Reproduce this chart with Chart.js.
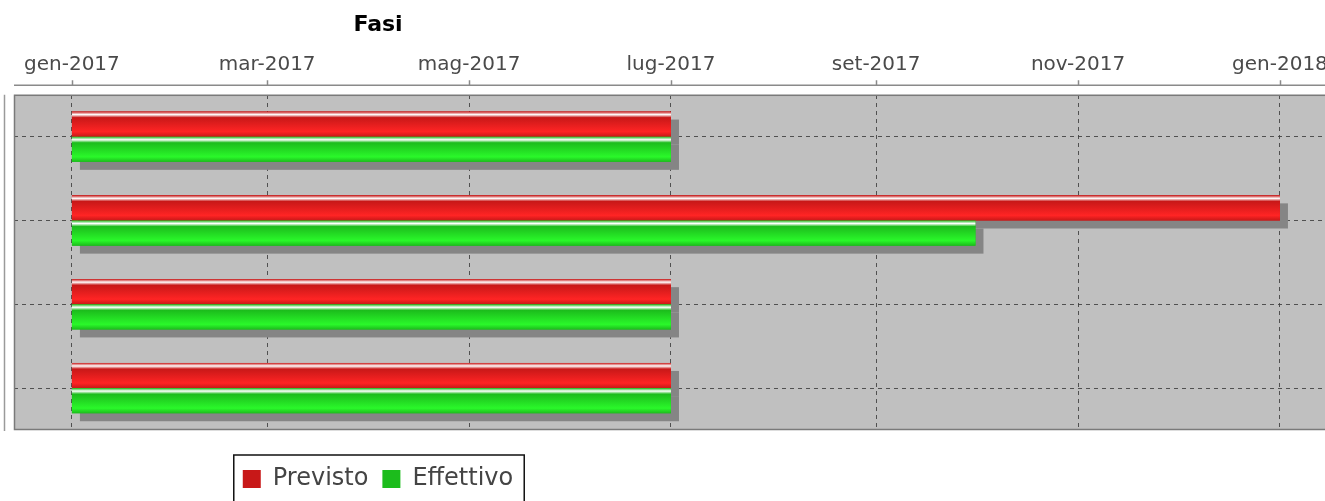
<!DOCTYPE html>
<html>
<head>
<meta charset="utf-8">
<script src="https://cdn.jsdelivr.net/npm/chart.js@4.4.1/dist/chart.umd.min.js"></script>
<style>
  html, body { margin: 0; padding: 0; background: #fff; overflow: hidden; }
  #wrap { width: 1325px; height: 501px; overflow: hidden; }
</style>
</head>
<body>
<div id="wrap"><canvas id="ganttChart" width="1400" height="501"></canvas></div>
<script>
// Fasi: previsto vs effettivo
const categories = ['Fase 1', 'Fase 2', 'Fase 3', 'Fase 4'];
const previstoStart = ['2017-01-01', '2017-01-01', '2017-01-01', '2017-01-01'];
const previstoEnd = ['2017-07-01', '2018-01-01', '2017-07-01', '2017-07-01'];
const effettivoStart = ['2017-01-01', '2017-01-01', '2017-01-01', '2017-01-01'];
const effettivoEnd = ['2017-07-01', '2017-10-01', '2017-07-01', '2017-07-01'];
const tickDates = ['2017-01-01', '2017-03-01', '2017-05-01', '2017-07-01', '2017-09-01', '2017-11-01', '2018-01-01'];
const tickLabels = ['gen-2017', 'mar-2017', 'mag-2017', 'lug-2017', 'set-2017', 'nov-2017', 'gen-2018'];
const axisStart = '2016-12-14T12:00:00Z';
const axisEnd = '2018-02-03T06:00:00Z';

const ms = s => Date.parse(s.length > 10 ? s : s + 'T00:00:00Z');
const span = (a, b) => a.map((s, i) => [ms(s), ms(b[i])]);

// base colour + brighter colour for each series
const shades = [['#c81818', '#ff2424'], ['#1cbc1c', '#2af82a']];

const ganttLook = {
  id: 'ganttLook',
  afterLayout(chart) {
    const t = chart.titleBlock;
    t.left = 0; t.right = 756;
    const l = chart.legend;
    l.left = 0; l.right = 756;
    l.top += 23; l.bottom += 23;
  },
  beforeDraw(chart) {
    const {ctx, chartArea: a} = chart;
    ctx.save();
    ctx.fillStyle = '#c0c0c0';
    ctx.fillRect(a.left, a.top, a.width, a.height);
    ctx.restore();
  },
  beforeDatasetsDraw(chart) {
    const {ctx, chartArea: a} = chart;
    ctx.save();
    ctx.beginPath();
    ctx.rect(a.left, a.top, a.width, a.height);
    ctx.clip();
    ctx.fillStyle = '#858585';
    chart.data.datasets.forEach((ds, i) => {
      chart.getDatasetMeta(i).data.forEach(el => {
        const p = el.getProps(['x', 'y', 'base', 'height'], true);
        const x0 = Math.min(p.x, p.base);
        ctx.fillRect(x0 + 8, p.y - p.height / 2 + 8, Math.abs(p.x - p.base), p.height);
      });
    });
    ctx.restore();
  },
  afterDatasetsDraw(chart) {
    const ctx = chart.ctx;
    ctx.save();
    chart.data.datasets.forEach((ds, i) => {
      const [c0, c1] = shades[i];
      chart.getDatasetMeta(i).data.forEach(el => {
        const p = el.getProps(['x', 'y', 'base', 'height'], true);
        const top = p.y - p.height / 2;
        const g = ctx.createLinearGradient(0, top, 0, top + p.height);
        g.addColorStop(0, c0);
        g.addColorStop(0.12, '#ffffff');
        g.addColorStop(0.24, c0);
        g.addColorStop(0.8, c1);
        g.addColorStop(1, c0);
        ctx.fillStyle = g;
        ctx.fillRect(Math.min(p.x, p.base), top, Math.abs(p.x - p.base), p.height);
      });
    });
    ctx.restore();
  },
  afterDraw(chart) {
    const {ctx, chartArea: a} = chart;
    const xs = chart.scales.x;
    ctx.save();
    // plot outline
    ctx.strokeStyle = '#7a7a7a';
    ctx.lineWidth = 1.5;
    ctx.strokeRect(a.left + 0.5, a.top + 0.5, a.width - 1, a.height - 1);
    // category axis line
    ctx.strokeStyle = '#9a9a9a';
    ctx.beginPath();
    ctx.moveTo(4.5, a.top);
    ctx.lineTo(4.5, a.bottom + 1);
    ctx.stroke();
    // date axis line and tick marks
    const ay = a.top - 9.5;
    ctx.strokeStyle = '#8a8a8a';
    ctx.beginPath();
    ctx.moveTo(a.left, ay);
    ctx.lineTo(a.right, ay);
    xs.ticks.forEach(t => {
      const px = Math.round(xs.getPixelForValue(t.value)) + 0.5;
      ctx.moveTo(px, ay - 5);
      ctx.lineTo(px, ay);
    });
    ctx.stroke();
    // legend frame
    const hb = chart.legend.legendHitBoxes;
    if (hb && hb.length) {
      const first = hb[0], last = hb[hb.length - 1];
      const x1 = first.left - 9, x2 = last.left + last.width + 11;
      const y1 = first.top - 12, y2 = first.top + first.height + 12;
      ctx.strokeStyle = '#111';
      ctx.lineWidth = 1.5;
      ctx.strokeRect(x1, y1, x2 - x1, y2 - y1);
    }
    ctx.restore();
  }
};

const gridColor = 'rgba(60, 60, 60, 0.85)';

new Chart(document.getElementById('ganttChart'), {
  type: 'bar',
  data: {
    labels: categories,
    datasets: [{
      label: 'Previsto',
      data: span(previstoStart, previstoEnd),
      backgroundColor: shades[0][0],
      borderWidth: 0,
    }, {
      label: 'Effettivo',
      data: span(effettivoStart, effettivoEnd),
      backgroundColor: shades[1][0],
      borderWidth: 0,
    }]
  },
  options: {
    indexAxis: 'y',
    responsive: false,
    animation: false,
    events: [],
    categoryPercentage: 0.6,
    barPercentage: 1,
    layout: { padding: { left: 14, right: 10, top: 0, bottom: 23 } },
    scales: {
      x: {
        type: 'linear',
        position: 'top',
        min: ms(axisStart),
        max: ms(axisEnd),
        afterBuildTicks: scale => {
          scale.ticks = tickDates.map(d => ({ value: ms(d) }));
        },
        ticks: {
          autoSkip: false,
          maxRotation: 0,
          padding: 18,
          color: '#4a4a4a',
          font: { family: 'DejaVu Sans', size: 20 },
          callback: (v, i) => tickLabels[i]
        },
        grid: { color: gridColor, drawTicks: false, tickBorderDash: [] },
        border: { display: false, dash: [4, 4] }
      },
      y: {
        ticks: { display: false },
        grid: { color: gridColor, drawTicks: false, offset: false },
        border: { display: false, dash: [4, 4] }
      }
    },
    plugins: {
      title: {
        display: true,
        text: 'Fasi',
        color: '#000',
        font: { family: 'DejaVu Sans', size: 22, weight: 'bold', lineHeight: 0.9 },
        padding: { top: 15, bottom: 0 }
      },
      legend: {
        position: 'bottom',
        labels: {
          boxWidth: 18,
          boxHeight: 18,
          padding: 14,
          color: '#444',
          font: { family: 'DejaVu Sans', size: 24 }
        }
      },
      tooltip: { enabled: false }
    }
  },
  plugins: [ganttLook]
});
</script>
</body>
</html>
